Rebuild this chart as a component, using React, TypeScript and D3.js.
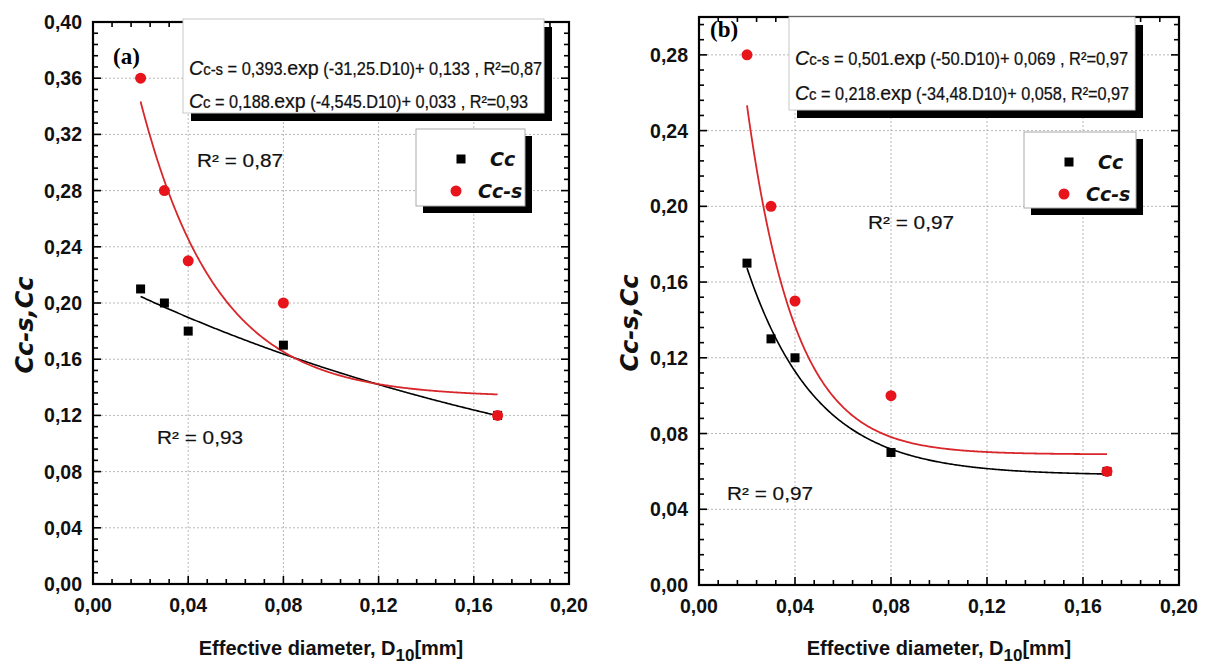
import React, { useLayoutEffect, useRef, useState } from "react";
import * as d3 from "d3";

// Sample effective diameters D10 [mm]
const d10 = [0.02, 0.03, 0.04, 0.08, 0.17];

// Panel (a) measured values
const ccA = [0.21, 0.2, 0.18, 0.17, 0.12];
const ccsA = [0.36, 0.28, 0.23, 0.2, 0.12];

// Panel (b) measured values
const ccB = [0.17, 0.13, 0.12, 0.07, 0.06];
const ccsB = [0.28, 0.2, 0.15, 0.1, 0.06];

// Exponential fits: y = a * exp(k * D10) + c
const fitCcsA = { a: 0.393, k: -31.25, c: 0.133, r2: 0.87 };
const fitCcA = { a: 0.188, k: -4.545, c: 0.033, r2: 0.93 };
const fitCcsB = { a: 0.501, k: -50, c: 0.069, r2: 0.97 };
const fitCcB = { a: 0.218, k: -34.48, c: 0.058, r2: 0.97 };

// Axis ticks
const xTicks = [0, 0.04, 0.08, 0.12, 0.16, 0.2];
const yTicksA = [0, 0.04, 0.08, 0.12, 0.16, 0.2, 0.24, 0.28, 0.32, 0.36, 0.4];
const yTicksB = [0, 0.04, 0.08, 0.12, 0.16, 0.2, 0.24, 0.28];

const comma = (v: number, digits: number) => v.toFixed(digits).replace(".", ",");
const plain = (v: number) => String(v).replace(".", ",");

type Fit = { a: number; k: number; c: number; r2: number };

type PanelProps = {
  tag: string;
  x0: number;
  x1: number;
  yTop: number;
  yBot: number;
  yMax: number;
  yTicks: number[];
  cc: number[];
  ccs: number[];
  fitCc: Fit;
  fitCcs: Fit;
  sepCcs: string;
  sepCc: string;
  eqBox: { x: number; y: number; w: number; h: number; b1: number; b2: number; w1: number; w2: number };
  legend: { x: number; y: number; w: number; h: number };
  tagPos: { x: number; y: number };
  r2Ccs: { x: number; y: number };
  r2Cc: { x: number; y: number };
  titleX: number;
};

const SANS = "'Liberation Sans', Arial, sans-serif";
const NARROW = "'Liberation Sans Narrow', 'Liberation Sans', Arial, sans-serif";
const HAND = "'DejaVu Sans', Verdana, sans-serif";
const RED = "#e8141c";
const CURVE_RED = "#d8262a";

// Fit equation line, squeezed horizontally to the given width
function Equation({ x, y, w, sub, fit, sep }: { x: number; y: number; w: number; sub: string; fit: Fit; sep: string }) {
  const ref = useRef<SVGTextElement>(null);
  const [sx, setSx] = useState(0.8);
  useLayoutEffect(() => {
    if (ref.current) {
      const natural = ref.current.getComputedTextLength();
      if (natural > 0) setSx(w / natural);
    }
  }, [w]);
  return (
    <text
      ref={ref}
      transform={`translate(${x},${y}) scale(${sx},1)`}
      fontFamily={NARROW}
      fontSize={17.5}
      fill="#111"
      stroke="#111"
      strokeWidth={0.25}
    >
      <tspan fontStyle="italic" fontSize={21}>C</tspan>
      <tspan fontSize={16}>{sub}</tspan>
      <tspan>{` = ${plain(fit.a)}.`}</tspan>
      <tspan fontSize={21}>exp</tspan>
      <tspan>{` (${plain(fit.k)}.D10)+ ${plain(fit.c)}${sep}R²=${comma(fit.r2, 2)}`}</tspan>
    </text>
  );
}

function R2Label({ x, y, r2 }: { x: number; y: number; r2: number }) {
  return (
    <text x={x} y={y} fontFamily={NARROW} fontSize={18} textLength={86} lengthAdjust="spacingAndGlyphs" fill="#111" stroke="#111" strokeWidth={0.2}>
      {`R² = ${comma(r2, 2)}`}
    </text>
  );
}

function Panel(p: PanelProps) {
  const x = d3.scaleLinear().domain([0, 0.2]).range([p.x0, p.x1]);
  const y = d3.scaleLinear().domain([0, p.yMax]).range([p.yBot, p.yTop]);
  const xMinor = d3.range(0, 0.2 + 1e-9, 0.008);
  const yMinor = d3.range(0, p.yMax + 1e-9, 0.008);

  const samples = d3.range(0.02, 0.17 + 1e-9, 0.0005);
  const curve = (f: Fit) =>
    d3
      .line<number>()
      .x((d) => x(d))
      .y((d) => y(f.a * Math.exp(f.k * d) + f.c))(samples) || "";

  const maj = 8;
  const mnr = 5;
  const sq = 9;

  return (
    <g>
      {/* grid */}
      {xTicks.slice(1, -1).map((t) => (
        <line key={"gx" + t} x1={x(t)} x2={x(t)} y1={p.yTop} y2={p.yBot} stroke="#b8b8b8" strokeWidth={1} strokeDasharray="2,2" />
      ))}
      {p.yTicks.slice(1).filter((t) => y(t) > p.yTop + 2).map((t) => (
        <line key={"gy" + t} x1={p.x0} x2={p.x1} y1={y(t)} y2={y(t)} stroke="#b8b8b8" strokeWidth={1} strokeDasharray="2,2" />
      ))}

      {/* fitted curves */}
      <path d={curve(p.fitCc)} fill="none" stroke="#000" strokeWidth={1.6} />
      <path d={curve(p.fitCcs)} fill="none" stroke={CURVE_RED} strokeWidth={1.8} />

      {/* markers */}
      {d10.map((d, i) => (
        <rect key={"s" + i} x={x(d) - sq / 2} y={y(p.cc[i]) - sq / 2} width={sq} height={sq} fill="#000" />
      ))}
      {d10.map((d, i) => (
        <circle key={"c" + i} cx={x(d)} cy={y(p.ccs[i])} r={5.5} fill={RED} />
      ))}

      {/* frame ticks on all sides */}
      {xMinor.map((t, i) => {
        const len = xTicks.some((m) => Math.abs(m - t) < 1e-6) ? maj : mnr;
        return (
          <g key={"xt" + i}>
            <line x1={x(t)} x2={x(t)} y1={p.yBot} y2={p.yBot - len} stroke="#000" strokeWidth={1.6} />
            <line x1={x(t)} x2={x(t)} y1={p.yTop} y2={p.yTop + len} stroke="#000" strokeWidth={1.6} />
          </g>
        );
      })}
      {yMinor.map((t, i) => {
        const len = p.yTicks.some((m) => Math.abs(m - t) < 1e-6) ? maj : mnr;
        return (
          <g key={"yt" + i}>
            <line x1={p.x0} x2={p.x0 + len} y1={y(t)} y2={y(t)} stroke="#000" strokeWidth={1.6} />
            <line x1={p.x1} x2={p.x1 - len} y1={y(t)} y2={y(t)} stroke="#000" strokeWidth={1.6} />
          </g>
        );
      })}
      <rect x={p.x0} y={p.yTop} width={p.x1 - p.x0} height={p.yBot - p.yTop} fill="none" stroke="#000" strokeWidth={2.2} />

      {/* tick labels */}
      {xTicks.map((t) => (
        <text key={"xl" + t} x={x(t)} y={p.yBot + 28} textAnchor="middle" fontFamily={SANS} fontWeight="bold" fontSize={19.5} fill="#111">
          {comma(t, 2)}
        </text>
      ))}
      {p.yTicks.map((t) => (
        <text key={"yl" + t} x={p.x0 - 11} y={y(t) + 7} textAnchor="end" fontFamily={SANS} fontWeight="bold" fontSize={19.5} fill="#111">
          {comma(t, 2)}
        </text>
      ))}

      {/* axis titles */}
      <text x={(p.x0 + p.x1) / 2} y={655} textAnchor="middle" fontFamily={SANS} fontWeight="bold" fontSize={20} fill="#111">
        <tspan>Effective diameter, D</tspan>
        <tspan fontSize={17} dy={6}>10</tspan>
        <tspan dy={-6}>[mm]</tspan>
      </text>
      <text
        transform={`translate(${p.titleX},${(p.yTop + p.yBot) / 2 + 22}) rotate(-90)`}
        textAnchor="middle"
        dominantBaseline="central"
        fontFamily={HAND}
        fontWeight="bold"
        fontStyle="italic"
        fontSize={24}
        fill="#111"
      >
        Cc-s,Cc
      </text>

      {/* panel tag */}
      <text x={p.tagPos.x} y={p.tagPos.y} fontFamily="'Liberation Serif', 'Times New Roman', serif" fontWeight="bold" fontSize={23} fill="#000">
        {p.tag}
      </text>

      {/* equation box */}
      <rect x={p.eqBox.x + 8} y={p.eqBox.y + 8} width={p.eqBox.w} height={p.eqBox.h} fill="#000" />
      <rect x={p.eqBox.x} y={p.eqBox.y} width={p.eqBox.w} height={p.eqBox.h} fill="#fff" stroke="#c8c8c8" strokeWidth={1} />
      <Equation x={p.eqBox.x + 6} y={p.eqBox.b1} w={p.eqBox.w1} sub="c-s" fit={p.fitCcs} sep={p.sepCcs} />
      <Equation x={p.eqBox.x + 6} y={p.eqBox.b2} w={p.eqBox.w2} sub="c" fit={p.fitCc} sep={p.sepCc} />

      {/* legend */}
      <rect x={p.legend.x + 7} y={p.legend.y + 7} width={p.legend.w} height={p.legend.h} fill="#000" />
      <rect x={p.legend.x} y={p.legend.y} width={p.legend.w} height={p.legend.h} fill="#fff" stroke="#aaa" strokeWidth={1} />
      <rect x={p.legend.x + 45 - sq / 2} y={p.legend.y + 30 - sq / 2} width={sq} height={sq} fill="#000" />
      <text x={p.legend.x + 74} y={p.legend.y + 37} fontFamily={HAND} fontWeight="bold" fontStyle="italic" fontSize={19} fill="#111">
        Cc
      </text>
      <circle cx={p.legend.x + 40} cy={p.legend.y + 62} r={5.5} fill={RED} />
      <text x={p.legend.x + 62} y={p.legend.y + 69} fontFamily={HAND} fontWeight="bold" fontStyle="italic" fontSize={19} fill="#111">
        Cc-s
      </text>

      {/* goodness of fit labels */}
      <R2Label x={p.r2Ccs.x} y={p.r2Ccs.y} r2={p.fitCcs.r2} />
      <R2Label x={p.r2Cc.x} y={p.r2Cc.y} r2={p.fitCc.r2} />
    </g>
  );
}

export default function App() {
  return (
    <svg width={1215} height={666} style={{ display: "block", position: "absolute", left: 0, top: 0, background: "#fff" }}>
      <rect width={1215} height={666} fill="#fff" />
      <Panel
        tag="(a)"
        x0={93}
        x1={569}
        yTop={22}
        yBot={584}
        yMax={0.4}
        yTicks={yTicksA}
        cc={ccA}
        ccs={ccsA}
        fitCc={fitCcA}
        fitCcs={fitCcsA}
        sepCcs=" , "
        sepCc=" , "
        eqBox={{ x: 183, y: 19, w: 361, h: 94, b1: 75, b2: 108, w1: 353, w2: 339 }}
        legend={{ x: 416, y: 129, w: 109, h: 77 }}
        tagPos={{ x: 113, y: 64 }}
        r2Ccs={{ x: 197, y: 167 }}
        r2Cc={{ x: 157, y: 444 }}
        titleX={25}
      />
      <Panel
        tag="(b)"
        x0={699}
        x1={1179}
        yTop={17}
        yBot={585}
        yMax={0.3}
        yTicks={yTicksB}
        cc={ccB}
        ccs={ccsB}
        fitCc={fitCcB}
        fitCcs={fitCcsB}
        sepCcs=" , "
        sepCc=", "
        eqBox={{ x: 789, y: 17, w: 346, h: 93, b1: 65, b2: 100, w1: 333, w2: 334 }}
        legend={{ x: 1024, y: 132, w: 112, h: 76 }}
        tagPos={{ x: 710, y: 37 }}
        r2Ccs={{ x: 868, y: 229 }}
        r2Cc={{ x: 727, y: 500 }}
        titleX={630}
      />
    </svg>
  );
}
